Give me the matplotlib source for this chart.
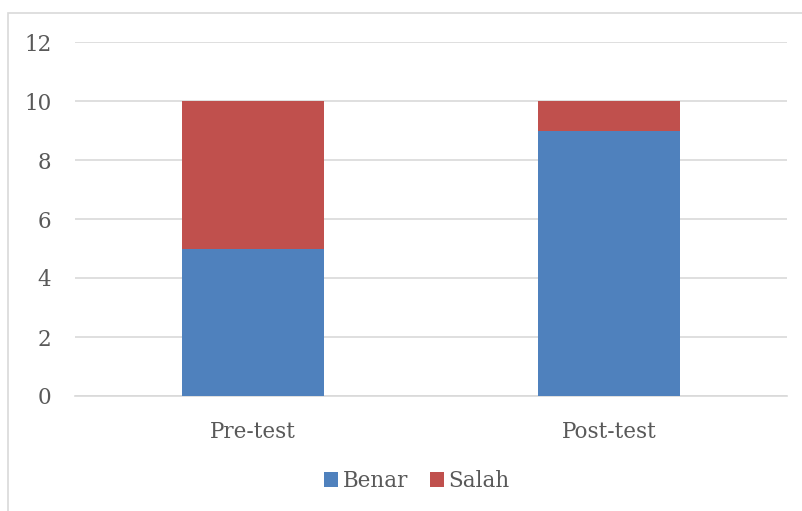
import matplotlib
matplotlib.use("Agg")
import matplotlib.pyplot as plt
from matplotlib.patches import Rectangle

categories = ["Pre-test", "Post-test"]
benar = [5, 9]
salah = [5, 1]
yticks = [0, 2, 4, 6, 8, 10, 12]

W, H = 803, 511
fig = plt.figure(figsize=(W / 100, H / 100), dpi=100)
plt.rcParams['font.family'] = ['DejaVu Serif']
txt = '#595959'

fig.patches.append(Rectangle((8 / W, -0.1), 1.0, 1 - 13 / H + 0.1, transform=fig.transFigure,
                             fill=False, edgecolor='#d9d9d9', linewidth=1.2))

ax = fig.add_axes([75 / W, 1 - 396 / H, (787 - 75) / W, (396 - 42) / H])
x = list(range(len(categories)))
ax.bar(x, benar, width=0.4, color='#4f81bd', label='Benar', zorder=3)
ax.bar(x, salah, width=0.4, bottom=benar, color='#c0504d', label='Salah', zorder=3)
ax.set_xlim(-0.5, 1.5)
ax.set_ylim(0, 12)
ax.set_yticks(yticks)
ax.set_xticks(x)
ax.set_xticklabels(categories)
ax.grid(axis='y', color='#d9d9d9', linewidth=1.2, zorder=0)
for s in ['top', 'right', 'left']:
    ax.spines[s].set_visible(False)
ax.spines['bottom'].set_color('#d9d9d9')
ax.spines['bottom'].set_linewidth(1.2)
ax.tick_params(axis='both', length=0, labelsize=15.5, colors=txt)
ax.tick_params(axis='y', pad=17)
ax.tick_params(axis='x', pad=18)
leg = ax.legend(loc='center', bbox_to_anchor=(0.48, -0.24), ncol=2, frameon=False,
                fontsize=15.5, handlelength=0.65, handleheight=0.65, handletextpad=0.2,
                columnspacing=1.0)
for t in leg.get_texts():
    t.set_color(txt)
fig.savefig('out.png', dpi=100)
